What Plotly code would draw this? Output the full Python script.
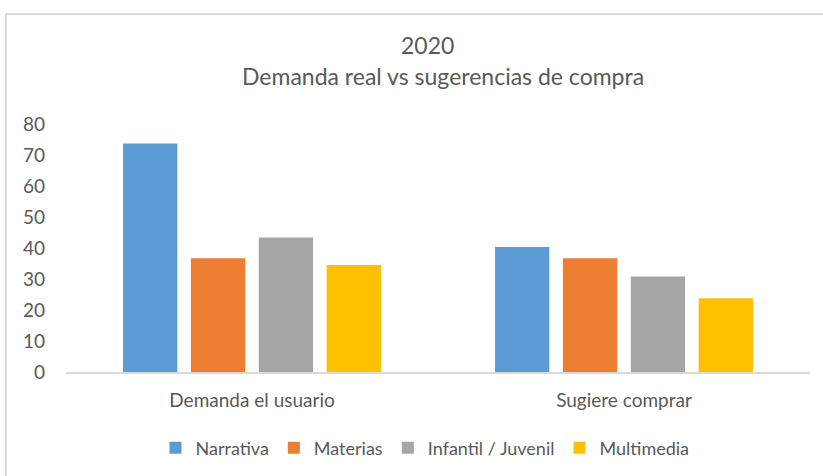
import plotly.graph_objects as go

categories = ["Demanda el usuario", "Sugiere comprar"]
series_names = ["Narrativa", "Materias", "Infantil / Juvenil", "Multimedia"]
narrativa = [73.7, 40.3]
materias = [36.7, 36.7]
infantil = [43.4, 30.8]
multimedia = [34.5, 23.8]
colors = ["#5B9BD5", "#ED7D31", "#A5A5A5", "#FFC000"]
y_ticks = [0, 10, 20, 30, 40, 50, 60, 70, 80]

W, H = 823, 476
ML, MR, MT, MB = 66, 13, 124, 104
FONT = "Lato"
GREY = "#595959"

fig = go.Figure()
for name, vals, col in zip(series_names, [narrativa, materias, infantil, multimedia], colors):
    fig.add_trace(go.Bar(name=name, x=categories, y=vals, marker=dict(color=col, line=dict(width=0))))

pw = W - ML - MR
ph = H - MT - MB
def px_x(x):
    return (x - ML) / pw
def px_y(y):
    return (H - MB - y) / ph

fig.update_layout(
    width=W, height=H,
    margin=dict(l=ML, r=MR, t=MT, b=MB, autoexpand=False),
    paper_bgcolor="white", plot_bgcolor="white",
    barmode="group", bargap=0.27, bargroupgap=0.2,
    font=dict(family=FONT, color=GREY, size=19),
    showlegend=True,
    legend=dict(orientation="h", x=px_x(425), xanchor="center", y=px_y(448), yanchor="middle",
                font=dict(size=18, color=GREY), itemwidth=30, traceorder="normal"),
    xaxis=dict(showgrid=False, showline=True, linecolor="#D9D9D9", linewidth=2,
               ticks="", tickfont=dict(size=19, color=GREY), ticklabelstandoff=10),
    yaxis=dict(range=[0, 80], tickvals=y_ticks, showgrid=False, zeroline=False,
               showline=False, ticks="", tickfont=dict(size=19, color=GREY), ticklabelstandoff=20),
    annotations=[
        dict(text="2020", xref="paper", yref="paper", x=px_x(427), y=px_y(45),
             xanchor="center", yanchor="middle", showarrow=False,
             font=dict(size=23, color=GREY, family=FONT)),
        dict(text="Demanda real vs sugerencias de compra", xref="paper", yref="paper",
             x=px_x(443), y=px_y(76), xanchor="center", yanchor="middle", showarrow=False,
             font=dict(size=23, color=GREY, family=FONT)),
    ],
    shapes=[
        dict(type="line", xref="paper", yref="paper", x0=px_x(6), x1=px_x(W + 5),
             y0=px_y(14), y1=px_y(14), line=dict(color="#D9D9D9", width=2)),
        dict(type="line", xref="paper", yref="paper", x0=px_x(6), x1=px_x(6),
             y0=px_y(14), y1=px_y(H + 5), line=dict(color="#D9D9D9", width=2)),
    ],
)

fig.write_html("out.html", config={"displayModeBar": False},
               post_script="document.body.style.margin='0';")
